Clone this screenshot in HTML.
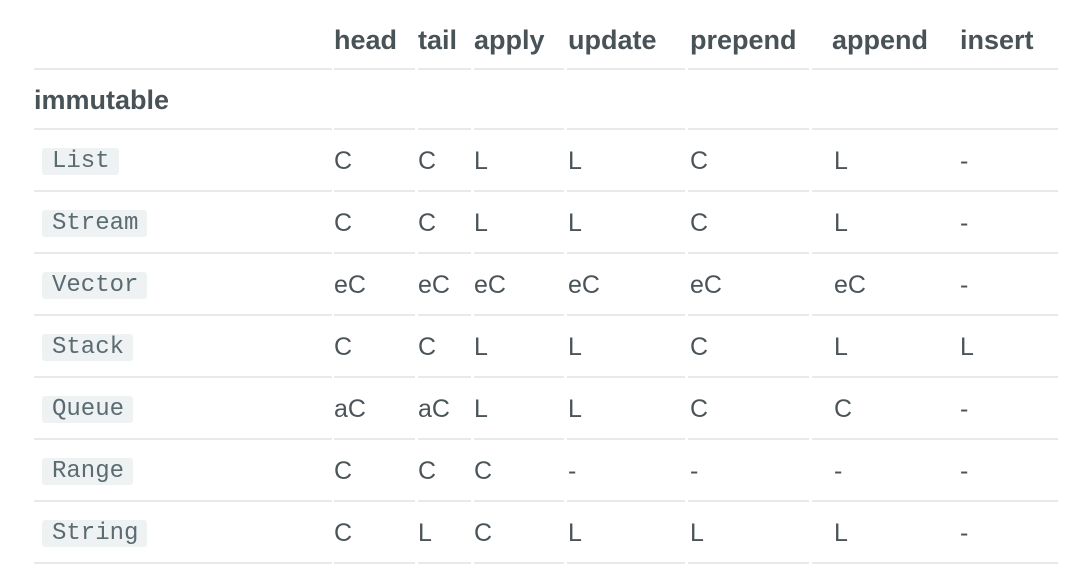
<!DOCTYPE html>
<html><head><meta charset="utf-8"><style>
body{margin:0;width:1082px;height:576px;background:#fff;position:relative;overflow:hidden;font-family:"Liberation Sans",sans-serif;color:#4a5459}
.l{position:absolute;height:2px;background:#e6eaeb}
.t{position:absolute;font-size:25px;line-height:30px;white-space:nowrap}
.h{font-weight:bold;font-size:27px;color:#485257}
.b{position:absolute;background:#eef2f3;border-radius:3px;font-family:"Liberation Mono",monospace;font-size:24px;line-height:27px;color:#5b6b72;padding:0 9px 0 10px;height:27px}
</style></head><body>
<div id="lines"></div>
<script>
var cols=[[34,332],[334,415],[418,471],[474,564],[567,685],[688,809],[812,1058]];
var ys=[68,128,190,252,314,376,438,500,562];
var h='';
ys.forEach(function(y){cols.forEach(function(c){h+='<div class="l" style="left:'+c[0]+'px;top:'+y+'px;width:'+(c[1]-c[0])+'px"></div>';});});
var hx=[334,418,474,568,690,832,960];
var hd=['head','tail','apply','update','prepend','append','insert'];
hd.forEach(function(t,i){h+='<div class="t h" style="left:'+hx[i]+'px;top:25px">'+t+'</div>';});
h+='<div class="t h" style="left:34px;top:85px">immutable</div>';
var rows=[['List','C','C','L','L','C','L','-'],['Stream','C','C','L','L','C','L','-'],['Vector','eC','eC','eC','eC','eC','eC','-'],['Stack','C','C','L','L','C','L','L'],['Queue','aC','aC','L','L','C','C','-'],['Range','C','C','C','-','-','-','-'],['String','C','L','C','L','L','L','-']];
var dx=[334,418,474,568,690,834,960];
rows.forEach(function(r,i){var cy=161+62*i;
h+='<div class="b" style="left:42px;top:'+(cy-13)+'px">'+r[0]+'</div>';
for(var j=1;j<8;j++)h+='<div class="t" style="left:'+dx[j-1]+'px;top:'+(cy-15)+'px">'+r[j]+'</div>';});
document.getElementById('lines').innerHTML=h;
</script>
</body></html>
